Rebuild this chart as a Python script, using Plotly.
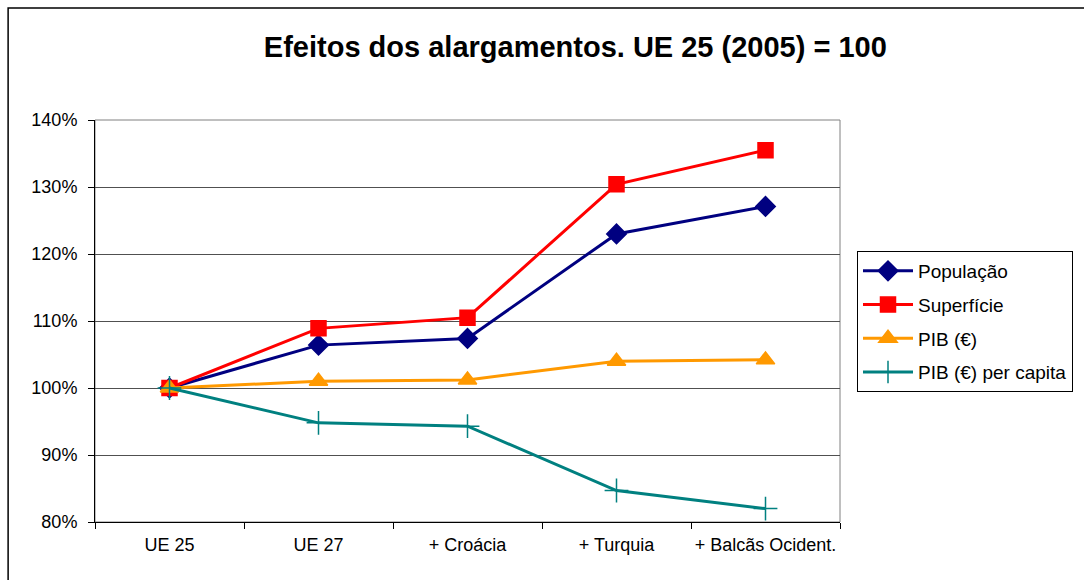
import plotly.graph_objects as go

categories = ["UE 25", "UE 27", "+ Croácia", "+ Turquia", "+ Balcãs Ocident."]
populacao = [1.000, 1.064, 1.074, 1.230, 1.271]
superficie = [1.000, 1.089, 1.105, 1.304, 1.355]
pib = [1.000, 1.010, 1.012, 1.040, 1.042]
pib_per_capita = [1.000, 0.948, 0.943, 0.847, 0.820]

FONT = "Liberation Sans, Arial, sans-serif"

# plot area in pixels (left, right, top, bottom) from the reference
L, R, T, B = 95, 841, 120, 522
W, H = 1084, 580
pw, ph = R - L, B - T


def px_x(x):
    return (x - L) / pw


def px_y(y):
    return (B - y) / ph


series = [
    ("População", populacao, "#000080", "diamond", 15),
    ("Superfície", superficie, "#FF0000", "square", 15),
    ("PIB (€)", pib, "#FF9900", "triangle-up", 16),
    ("PIB (€) per capita", pib_per_capita, "#008080", "cross-thin", 17),
]

fig = go.Figure()
for name, vals, color, symbol, size in series:
    fig.add_trace(
        go.Scatter(
            x=categories,
            y=vals,
            name=name,
            mode="lines+markers",
            line=dict(color=color, width=3),
            marker=dict(symbol=symbol, size=size, color=color,
                        line=dict(color=color, width=1.5)),
            legendgroup=name,
        )
    )

fig.update_layout(
    width=W,
    height=H,
    margin=dict(l=L, r=W - R, t=T, b=H - B),
    paper_bgcolor="white",
    plot_bgcolor="white",
    font=dict(family=FONT, size=18, color="black"),
    title=dict(
        text="<b>Efeitos dos alargamentos. UE 25 (2005) = 100</b>",
        font=dict(size=29, family=FONT),
        x=px_x(576), xref="paper", xanchor="center",
        y=1 - 47 / H, yanchor="middle",
    ),
    legend=dict(
        x=px_x(857), y=px_y(251), xref="paper", yref="paper",
        xanchor="left", yanchor="top",
        bordercolor="black", borderwidth=1,
        font=dict(size=19, family=FONT),
        tracegroupgap=6,
        itemwidth=50,
    ),
    showlegend=True,
    shapes=[
        # outer chart border
        dict(type="rect", xref="paper", yref="paper",
             x0=px_x(8), x1=px_x(W + 20), y0=px_y(H + 20), y1=px_y(8),
             line=dict(color="black", width=1.5), layer="below"),
        # plot area border
        dict(type="rect", xref="paper", yref="paper",
             x0=0, x1=1, y0=0, y1=1,
             line=dict(color="#808080", width=1), layer="below"),
    ],
)

fig.update_xaxes(
    type="category",
    range=[-0.5, len(categories) - 0.5],
    showline=True, linecolor="black", linewidth=1,
    ticks="outside", ticklen=6, tickcolor="black",
    tickson="boundaries",
    showgrid=False,
    tickfont=dict(size=18),
    tickangle=0,
    automargin=False,
    ticklabelstandoff=6,
)
fig.update_yaxes(
    range=[0.8, 1.4], dtick=0.1, tickformat=".0%",
    showline=True, linecolor="black", linewidth=1,
    ticks="outside", ticklen=6, tickcolor="black",
    showgrid=True, gridcolor="#505050", gridwidth=1,
    zeroline=False,
    tickfont=dict(size=18),
    automargin=False,
    ticklabelstandoff=7,
)

fig.write_html("out.html", config={"displayModeBar": False},
               post_script="document.body.style.margin='0';")
